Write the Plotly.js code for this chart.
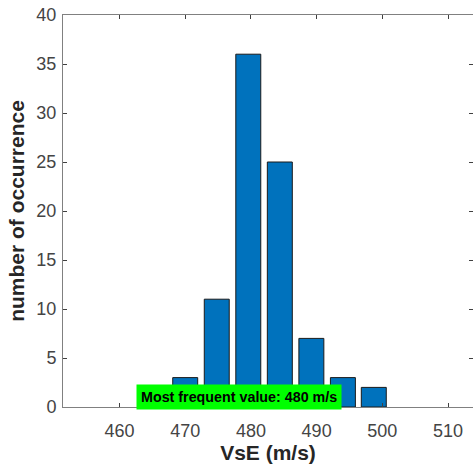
<!DOCTYPE html>
<html>
<head>
<meta charset="utf-8">
<script src="https://cdn.plot.ly/plotly-3.0.1.min.js"></script>
<style>html,body{margin:0;padding:0;background:#fff;}#chart{width:473px;height:466px;}</style>
</head>
<body>
<div id="chart"></div>
<script>
// Bin centres (m/s) and counts
var binCenters = [470.0, 474.8, 479.6, 484.4, 489.2, 494.0, 498.7];
var counts = [3, 11, 36, 25, 7, 3, 2];
var xTicks = [460, 470, 480, 490, 500, 510];
var yTicks = [0, 5, 10, 15, 20, 25, 30, 35, 40];
var labelText = 'Most frequent value: 480 m/s';

var font = 'Arial, "Liberation Sans", Helvetica, sans-serif';

var trace = {
  type: 'bar',
  x: binCenters,
  y: counts,
  width: 3.8,
  marker: {color: '#0072BD', line: {color: '#1a1a1a', width: 1}},
  hoverinfo: 'x+y'
};

var axisCommon = {
  showline: true, mirror: 'ticks', linecolor: '#808080', linewidth: 1,
  ticks: 'inside', ticklen: 4, tickcolor: '#404040', tickwidth: 1,
  showgrid: false, zeroline: false,
  tickfont: {family: font, size: 18, color: '#444444'}
};

var layout = {
  width: 473, height: 466,
  margin: {l: 63, r: 0, t: 15, b: 59},
  paper_bgcolor: '#ffffff', plot_bgcolor: '#ffffff',
  showlegend: false,
  bargap: 0,
  xaxis: Object.assign({}, axisCommon, {
    range: [451.4, 513.8],
    tickvals: xTicks,
    ticktext: xTicks.map(String),
    ticklabelstandoff: 7,
    automargin: false,
    title: {text: 'VsE (m/s)', font: {family: font, size: 21, color: '#262626', weight: 'bold'}, standoff: 5}
  }),
  yaxis: Object.assign({}, axisCommon, {
    range: [0, 40],
    tickvals: yTicks,
    ticktext: yTicks.map(String),
    ticklabelstandoff: 2,
    automargin: false,
    title: {text: 'number of occurrence', font: {family: font, size: 21, color: '#262626', weight: 'bold'}, standoff: 6}
  }),
  annotations: [{
    xref: 'paper', yref: 'paper',
    x: 0.178, y: -0.0087,
    xanchor: 'left', yanchor: 'bottom',
    text: '<b>' + labelText + '</b>',
    showarrow: false,
    bgcolor: '#00ff00',
    borderpad: 4,
    font: {family: font, size: 14.3, color: '#000000'}
  }]
};

Plotly.newPlot('chart', [trace], layout, {displayModeBar: false, staticPlot: true});
</script>
</body>
</html>
